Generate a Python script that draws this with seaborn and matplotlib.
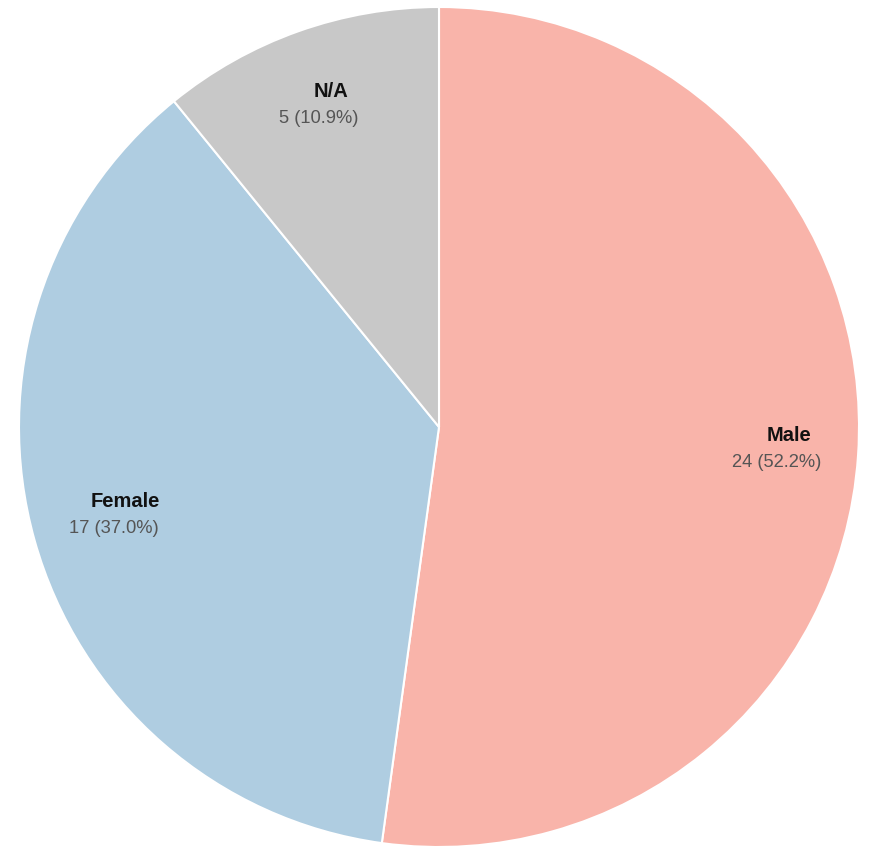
import matplotlib
matplotlib.use("Agg")
import matplotlib.pyplot as plt
import seaborn as sns
import numpy as np

labels = ["Male", "Female", "N/A"]
counts = [24, 17, 5]
colors = ["#f9b4aa", "#afcde1", "#c8c8c8"]

sns.set_theme(style="white")
plt.rcParams["font.family"] = ["Liberation Sans", "DejaVu Sans"]

fig = plt.figure(figsize=(8.71, 8.47), dpi=100)
ax = fig.add_axes([19/871, 0/847, 840/871, 840/847])
wedges, _ = ax.pie(counts, colors=colors, startangle=90, counterclock=False,
                   radius=1.0, wedgeprops=dict(edgecolor="white", linewidth=1.5))
ax.set_xlim(-1, 1)
ax.set_ylim(-1, 1)
ax.set_aspect("equal")
ax.axis("off")

total = sum(counts)
label_r = [0.82, 0.79, 0.81]
for w, lab, c, r in zip(wedges, labels, counts, label_r):
    ang = np.deg2rad((w.theta1 + w.theta2) / 2)
    x, y = r * np.cos(ang), r * np.sin(ang)
    ax.annotate(lab, (x, y), xytext=(6, 15), textcoords="offset pixels",
                ha="center", va="center", fontsize=14.5, fontweight="bold", color="#111111")
    ax.annotate(f"{c} ({c/total*100:.1f}%)", (x, y), xytext=(-6, -12),
                textcoords="offset pixels", ha="center", va="center",
                fontsize=13.2, color="#555555")

fig.savefig("out.png", dpi=100)
